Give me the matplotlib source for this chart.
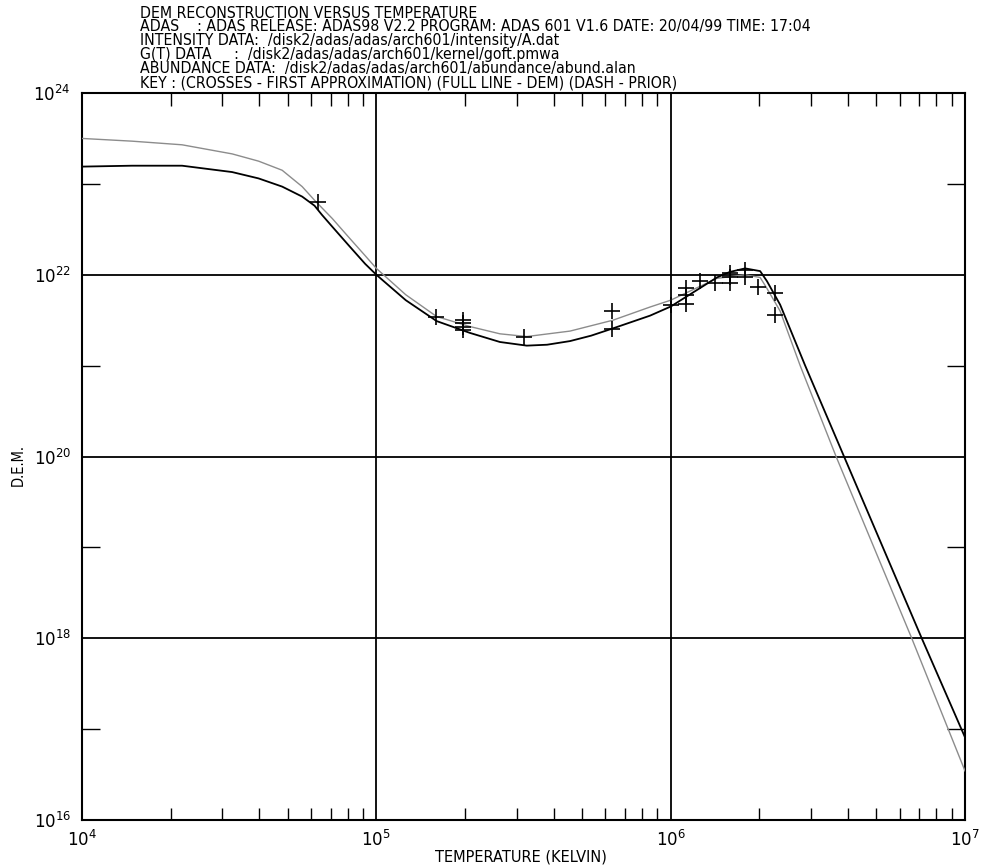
import numpy as np
import matplotlib
matplotlib.use("Agg")
import matplotlib.pyplot as plt
from matplotlib.ticker import LogLocator, NullFormatter, FixedLocator

# ---- data (log10 values) ----
dem_logT = [4.00, 4.17, 4.34, 4.51, 4.60, 4.68, 4.714, 4.748, 4.79, 4.815, 4.85, 4.907, 4.962,
            5.00, 5.10, 5.205, 5.318, 5.42, 5.511, 5.58, 5.658, 5.73, 5.804, 5.93, 6.00,
            6.157, 6.20, 6.253, 6.304, 6.327, 6.372, 6.457, 6.589, 6.853, 7.00]
dem_logD = [23.19, 23.20, 23.20, 23.13, 23.06, 22.97, 22.915, 22.86, 22.76, 22.66, 22.53, 22.32, 22.12,
            22.00, 21.72, 21.49, 21.36, 21.26, 21.22, 21.23, 21.27, 21.33, 21.41, 21.55, 21.65,
            21.97, 22.03, 22.07, 22.04, 21.93, 21.67, 21.00, 20.00, 18.00, 16.91]

prior_logT = [4.00, 4.17, 4.34, 4.51, 4.60, 4.68, 4.714, 4.748, 4.79, 4.85, 4.907, 4.962, 5.00,
              5.10, 5.205, 5.318, 5.42, 5.511, 5.658, 5.804, 5.93, 6.00, 6.157, 6.253, 6.304,
              6.327, 6.372, 6.44, 6.562, 6.819, 7.00]
prior_logD = [23.50, 23.47, 23.43, 23.33, 23.25, 23.15, 23.06, 22.97, 22.82, 22.62, 22.41, 22.21, 22.07,
              21.78, 21.54, 21.43, 21.35, 21.32, 21.38, 21.50, 21.645, 21.72, 21.96, 22.00, 21.97,
              21.85, 21.60, 21.00, 20.00, 18.00, 16.54]

cross_logT = [4.802, 5.204, 5.296, 5.296, 5.296, 5.296, 5.50, 5.802, 5.802,
              6.00, 6.051, 6.051, 6.051, 6.10, 6.151, 6.202, 6.202, 6.202, 6.253, 6.253,
              6.298, 6.355, 6.355]
cross_logD = [22.805, 21.535, 21.505, 21.467, 21.429, 21.39, 21.315, 21.597, 21.407,
              21.67, 21.85, 21.78, 21.68, 21.93, 21.91, 22.02, 21.97, 21.91, 22.05, 21.98,
              21.87, 21.80, 21.56]

header = ["DEM RECONSTRUCTION VERSUS TEMPERATURE",
          "ADAS    : ADAS RELEASE: ADAS98 V2.2 PROGRAM: ADAS 601 V1.6 DATE: 20/04/99 TIME: 17:04",
          "INTENSITY DATA:  /disk2/adas/adas/arch601/intensity/A.dat",
          "G(T) DATA     :  /disk2/adas/adas/arch601/kernel/goft.pmwa",
          "ABUNDANCE DATA:  /disk2/adas/adas/arch601/abundance/abund.alan",
          "KEY : (CROSSES - FIRST APPROXIMATION) (FULL LINE - DEM) (DASH - PRIOR)"]

xlabel = "TEMPERATURE (KELVIN)"
ylabel = "D.E.M."

# ---- figure ----
W, H = 985, 866
fig = plt.figure(figsize=(W/100, H/100), dpi=100)
ax = fig.add_axes([82/W, 46/H, 883/W, 727/H])

p = lambda v: [10**x for x in v]
ax.plot(p(prior_logT), p(prior_logD), color="#8c8c8c", lw=1.0, zorder=3)
ax.plot(p(dem_logT), p(dem_logD), color="black", lw=1.3, zorder=4)
ax.plot(p(cross_logT), p(cross_logD), ls="none", marker="+", ms=11, mew=1.2, color="black", zorder=5)

ax.set_xscale("log")
ax.set_yscale("log")
ax.set_xlim(1e4, 1e7)
ax.set_ylim(1e16, 1e24)

# gridlines
for gx in [1e5, 1e6]:
    ax.axvline(gx, color="black", lw=1.3, zorder=2)
for gy in [1e18, 1e20, 1e22]:
    ax.axhline(gy, color="black", lw=1.3, zorder=2)

ax.xaxis.set_major_locator(FixedLocator([1e4, 1e5, 1e6, 1e7]))
ax.xaxis.set_minor_locator(LogLocator(base=10, subs=np.arange(2, 10), numticks=20))
ax.xaxis.set_minor_formatter(NullFormatter())
ax.yaxis.set_major_locator(FixedLocator([1e16, 1e18, 1e20, 1e22, 1e24]))
ax.yaxis.set_minor_locator(FixedLocator([1e17, 1e19, 1e21, 1e23]))
ax.yaxis.set_minor_formatter(NullFormatter())

ax.tick_params(axis="x", which="major", length=0, labelsize=12, pad=7)
ax.tick_params(axis="x", which="minor", direction="in", length=9, width=1.0, top=True, bottom=True)
ax.tick_params(axis="y", which="major", length=0, labelsize=12, pad=8)
ax.tick_params(axis="y", which="minor", direction="in", length=13, width=1.0, left=True, right=True)
for s in ax.spines.values():
    s.set_linewidth(1.5)

fig.text(521/W, 1 - 857/H, xlabel, fontsize=10.5, ha="center", va="center",
         family="DejaVu Sans")
fig.text(18/W, 1 - 465/H, ylabel, fontsize=10.5, ha="center", va="center", rotation=90,
         family="DejaVu Sans", fontstretch="condensed")

for i, line in enumerate(header):
    fig.text(140/W, 1 - (13 + 14*i)/H, line, fontsize=11.3, ha="left", va="center",
             family="DejaVu Sans", fontstretch="condensed")

fig.savefig("out.png", dpi=100)
